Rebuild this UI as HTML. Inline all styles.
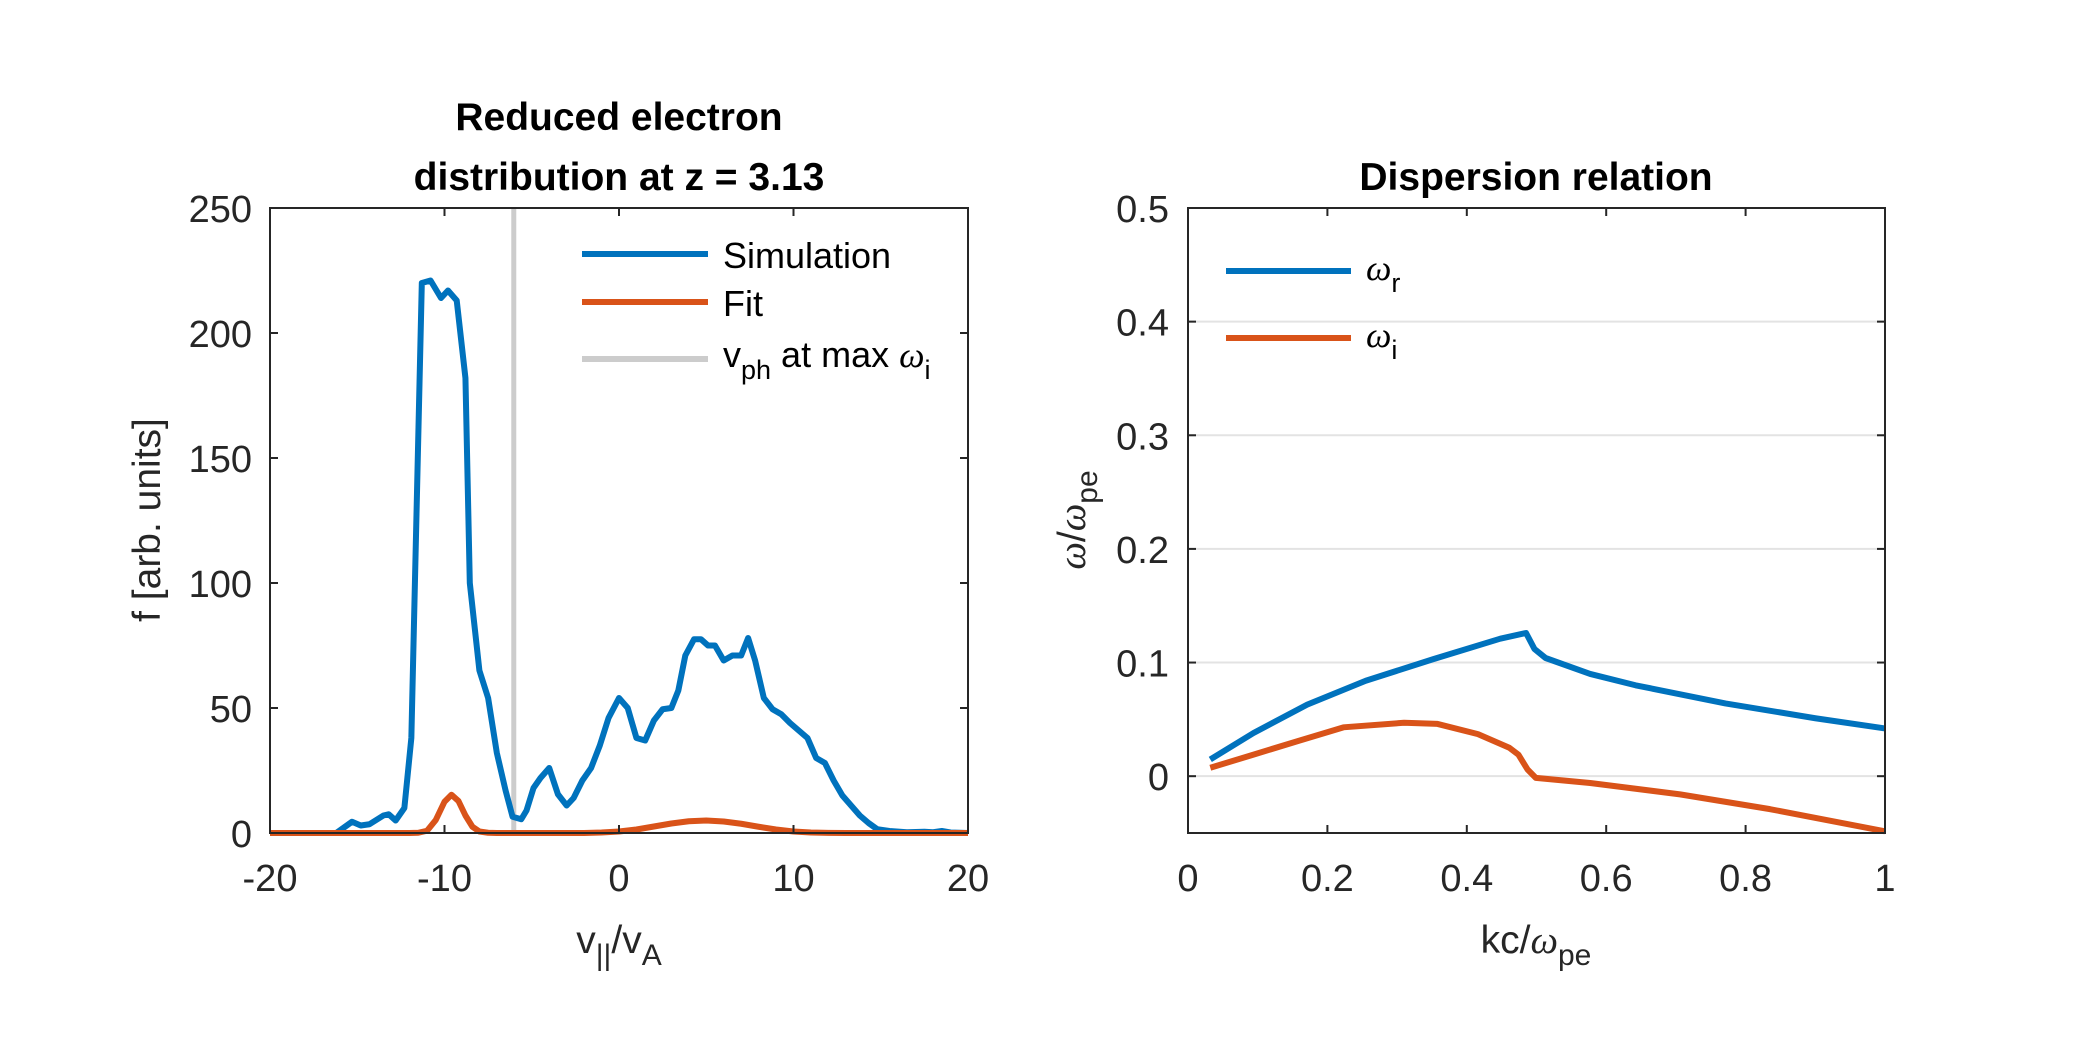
<!DOCTYPE html>
<html><head><meta charset="utf-8">
<style>
html,body{margin:0;padding:0;background:#fff;}
svg{display:block;font-family:"Liberation Sans",Arial,sans-serif;}
</style></head>
<body>
<svg id="fig" width="2083" height="1042" viewBox="0 0 2083 1042" xmlns="http://www.w3.org/2000/svg">
<rect width="2083" height="1042" fill="#fff"/>
<g id="left"></g>
<g id="right"></g>
</svg>
<script>
// ---- Left chart data ----
const simV = [-20,-18,-16.2,-15.3,-14.8,-14.3,-13.5,-13.2,-12.8,-12.3,-11.9,-11.3,-10.8,-10.2,-9.8,-9.3,-8.8,-8.55,-8.0,-7.5,-7.0,-6.5,-6.1,-5.6,-5.3,-4.9,-4.5,-4.0,-3.5,-3.0,-2.6,-2.1,-1.6,-1.1,-0.6,0.0,0.5,1.0,1.5,2.0,2.5,3.0,3.4,3.8,4.3,4.7,5.1,5.5,6.0,6.5,7.0,7.4,7.8,8.3,8.8,9.3,9.8,10.3,10.8,11.3,11.8,12.3,12.8,13.3,13.8,14.3,14.8,15.5,16.5,17.5,18,18.5,19,20];
const simF = [0,0,0,4.5,3,3.5,7,7.5,5,10,38,220,221,214,217,213,182,100,65,54,32,17,6.5,5.5,9,18,22,26,15.5,11,14,21,26,35,46,54,50,38,37,45,49.5,50,57,71,77.5,77.5,75,75,69,71,71,78,69,54,49.5,47.5,44,41,38,30,28,21,15,11,7,4,1.5,0.8,0.3,0.5,0.3,0.8,0.2,0];
const fitV = [-20,-12,-11.5,-11,-10.5,-10,-9.6,-9.2,-8.8,-8.4,-8,-7.5,-7,-2,-1,0,1,2,3,4,5,6,7,8,9,10,11,12,13,20];
const fitF = [0,0,0.1,0.9,5.2,12.5,15.3,12.8,7,2.5,0.6,0.1,0,0,0.2,0.6,1.4,2.6,3.8,4.7,5,4.6,3.7,2.5,1.4,0.6,0.2,0.05,0,0];
const vph = -6.03;
const leftXTicks = [-20,-10,0,10,20];
const leftYTicks = [0,50,100,150,200,250];
// ---- Right chart data ----
const kR = [0.032,0.094,0.171,0.255,0.352,0.448,0.485,0.497,0.513,0.577,0.642,0.771,0.9,1.0];
const wR = [0.0147,0.038,0.063,0.084,0.103,0.121,0.126,0.112,0.104,0.09,0.08,0.064,0.051,0.042];
const kI = [0.032,0.094,0.158,0.223,0.31,0.358,0.416,0.461,0.474,0.487,0.499,0.577,0.706,0.835,1.0];
const wI = [0.0074,0.019,0.031,0.043,0.047,0.046,0.037,0.025,0.019,0.006,-0.0015,-0.006,-0.016,-0.029,-0.0485];
const rightXTicks = [0,0.2,0.4,0.6,0.8,1];
const rightYTicks = [0,0.1,0.2,0.3,0.4,0.5];
const rightYLabels = ["0","0.1","0.2","0.3","0.4","0.5"];

const NS="http://www.w3.org/2000/svg";
function mk(parent,tag,attrs,text){const e=document.createElementNS(NS,tag);for(const k in attrs)e.setAttribute(k,attrs[k]);if(text!==undefined)e.textContent=text;parent.appendChild(e);return e;}
const BLUE="#0072bd",ORANGE="#d95319",AX="#262626";

// Left axes
const L={x0:270,x1:968,y0:833,y1:208};
const lx=v=>L.x0+(v+20)/40*(L.x1-L.x0);
const ly=f=>L.y0-f/250*(L.y0-L.y1);
const gl=document.getElementById('left');
let e;
e=mk(gl,'line',{x1:lx(vph),x2:lx(vph),y1:L.y1,y2:L.y0,stroke:'#cccccc','stroke-width':5});


e=mk(gl,'polyline',{points:simV.map((v,i)=>lx(v)+','+ly(simF[i])).join(' '),fill:'none',stroke:BLUE,'stroke-width':6,'stroke-linejoin':'round'});


e=mk(gl,'polyline',{points:fitV.map((v,i)=>lx(v)+','+ly(fitF[i])).join(' '),fill:'none',stroke:ORANGE,'stroke-width':6,'stroke-linejoin':'round'});


e=mk(gl,'rect',{x:L.x0,y:L.y1,width:L.x1-L.x0,height:L.y0-L.y1,fill:'none',stroke:AX,'stroke-width':2});


leftXTicks.forEach(t=>{const x=lx(t);
 mk(gl,'line',{x1:x,x2:x,y1:L.y0,y2:L.y0-8,stroke:AX,'stroke-width':2});
 mk(gl,'line',{x1:x,x2:x,y1:L.y1,y2:L.y1+8,stroke:AX,'stroke-width':2});
 e=mk(gl,'text',{x:x,y:891,'text-anchor':'middle','font-size':38,fill:AX},String(t));
 
 });
leftYTicks.forEach(t=>{const y=ly(t);
 mk(gl,'line',{x1:L.x0,x2:L.x0+8,y1:y,y2:y,stroke:AX,'stroke-width':2});
 mk(gl,'line',{x1:L.x1,x2:L.x1-8,y1:y,y2:y,stroke:AX,'stroke-width':2});
 e=mk(gl,'text',{x:252,y:y+14,'text-anchor':'end','font-size':38,fill:AX},String(t));
 
 });

// Right axes
const R={x0:1188,x1:1885,y0:833,y1:208};
const rx=k=>R.x0+k*(R.x1-R.x0);
const ry=w=>R.y0-(w+0.05)/0.55*(R.y0-R.y1);
const gr=document.getElementById('right');
rightYTicks.forEach(t=>{if(t<0.5){e=mk(gr,'line',{x1:R.x0,x2:R.x1,y1:ry(t),y2:ry(t),stroke:'#e3e3e3','stroke-width':2});
 
 }});
e=mk(gr,'polyline',{points:kR.map((k,i)=>rx(k)+','+ry(wR[i])).join(' '),fill:'none',stroke:BLUE,'stroke-width':6,'stroke-linejoin':'round'});


e=mk(gr,'polyline',{points:kI.map((k,i)=>rx(k)+','+ry(wI[i])).join(' '),fill:'none',stroke:ORANGE,'stroke-width':6,'stroke-linejoin':'round'});


e=mk(gr,'rect',{x:R.x0,y:R.y1,width:R.x1-R.x0,height:R.y0-R.y1,fill:'none',stroke:AX,'stroke-width':2});


rightXTicks.forEach(t=>{const x=rx(t);
 mk(gr,'line',{x1:x,x2:x,y1:R.y0,y2:R.y0-8,stroke:AX,'stroke-width':2});
 mk(gr,'line',{x1:x,x2:x,y1:R.y1,y2:R.y1+8,stroke:AX,'stroke-width':2});
 e=mk(gr,'text',{x:x,y:891,'text-anchor':'middle','font-size':38,fill:AX},String(t));
 
 });
rightYTicks.forEach((t,i)=>{const y=ry(t);
 mk(gr,'line',{x1:R.x0,x2:R.x0+8,y1:y,y2:y,stroke:AX,'stroke-width':2});
 mk(gr,'line',{x1:R.x1,x2:R.x1-8,y1:y,y2:y,stroke:AX,'stroke-width':2});
 e=mk(gr,'text',{x:1169,y:y+14,'text-anchor':'end','font-size':38,fill:AX},rightYLabels[i]);
 
 });
</script>
<script>
(function(){
const svg=document.getElementById('fig');
const html=`
<g font-weight="bold" font-size="39" text-anchor="middle" fill="#000">
<text x="619" y="130">Reduced electron</text>
<text x="619" y="190">distribution at z = 3.13</text>
</g>
<text x="1536" y="190" font-weight="bold" font-size="39" text-anchor="middle" fill="#000">Dispersion relation</text>
<text transform="translate(160,520) rotate(-90)" font-size="39" text-anchor="middle" fill="#262626">f [arb. units]</text>
<text x="619" y="953" font-size="39" text-anchor="middle" fill="#262626">v<tspan font-size="30" dy="12">||</tspan><tspan dy="-12">/v</tspan><tspan font-size="30" dy="12">A</tspan></text>
<text x="1536" y="953" font-size="39" text-anchor="middle" fill="#262626">kc/<tspan font-family="Liberation Serif" font-style="italic">ω</tspan><tspan font-size="30" dy="12">pe</tspan></text>
<text transform="translate(1085,520) rotate(-90)" font-size="39" text-anchor="middle" fill="#262626"><tspan font-family="Liberation Serif" font-style="italic">ω</tspan>/<tspan font-family="Liberation Serif" font-style="italic">ω</tspan><tspan font-size="30" dy="12">pe</tspan></text>
<g font-size="36" fill="#000">
<line x1="582" x2="708" y1="254" y2="254" stroke="#0072bd" stroke-width="6"/>
<text x="723" y="268">Simulation</text>
<line x1="582" x2="708" y1="302" y2="302" stroke="#d95319" stroke-width="6"/>
<text x="723" y="316">Fit</text>
<line x1="582" x2="708" y1="359" y2="359" stroke="#cccccc" stroke-width="6"/>
<text x="723" y="367">v<tspan font-size="27" dy="12">ph</tspan><tspan dy="-12"> at max </tspan><tspan font-family="Liberation Serif" font-style="italic">ω</tspan><tspan font-size="27" dy="12">i</tspan></text>
</g>
<g font-size="36" fill="#000">
<line x1="1226" x2="1351" y1="271" y2="271" stroke="#0072bd" stroke-width="6"/>
<text x="1366" y="280"><tspan font-family="Liberation Serif" font-style="italic">ω</tspan><tspan font-size="27" dy="12">r</tspan></text>
<line x1="1226" x2="1351" y1="338" y2="338" stroke="#d95319" stroke-width="6"/>
<text x="1366" y="347"><tspan font-family="Liberation Serif" font-style="italic">ω</tspan><tspan font-size="27" dy="12">i</tspan></text>
</g>`;
const g=document.createElementNS("http://www.w3.org/2000/svg",'g');


g.innerHTML=html;
svg.appendChild(g);
})();
</script>
</body></html>
